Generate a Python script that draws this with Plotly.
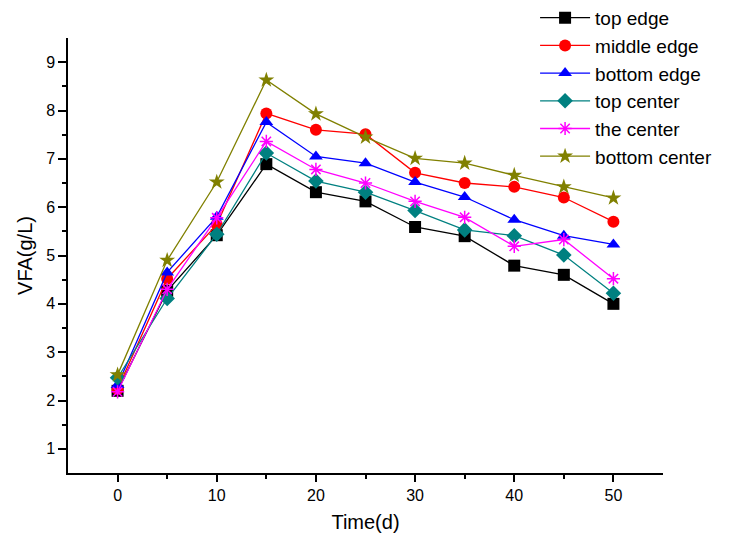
import plotly.graph_objects as go

time_d = [0, 5, 10, 15, 20, 25, 30, 35, 40, 45, 50]
top_edge = [2.20, 4.27, 5.42, 6.89, 6.31, 6.12, 5.59, 5.40, 4.79, 4.60, 4.00]
middle_edge = [2.24, 4.52, 5.64, 7.94, 7.60, 7.51, 6.71, 6.50, 6.42, 6.20, 5.70]
bottom_edge = [2.32, 4.65, 5.80, 7.76, 7.05, 6.91, 6.52, 6.21, 5.74, 5.41, 5.23]
top_center = [2.47, 4.11, 5.44, 7.12, 6.54, 6.31, 5.93, 5.53, 5.41, 5.01, 4.22]
the_center = [2.18, 4.30, 5.78, 7.36, 6.78, 6.50, 6.12, 5.79, 5.19, 5.33, 4.52]
bottom_center = [2.53, 4.90, 6.52, 8.63, 7.93, 7.45, 7.01, 6.91, 6.66, 6.42, 6.19]

series = [
    ("top edge", top_edge, "#000000", "square"),
    ("middle edge", middle_edge, "#FF0000", "circle"),
    ("bottom edge", bottom_edge, "#0000FF", "triangle-up"),
    ("top center", top_center, "#008080", "diamond"),
    ("the center", the_center, "#FF00FF", "asterisk-open"),
    ("bottom center", bottom_center, "#808000", "star"),
]

fig = go.Figure()
for name, vals, color, sym in series:
    fig.add_trace(go.Scatter(
        x=time_d, y=vals, name=name, mode="lines+markers",
        line=dict(color=color, width=1.3),
        marker=dict(symbol=sym, size=12 if sym != "asterisk-open" else 11,
                    color=color, line=dict(color=color, width=1.5 if sym == "asterisk-open" else 0)),
    ))

axis_font = dict(family="Arial, Liberation Sans, sans-serif", size=16, color="#000000")
fig.update_layout(
    width=731, height=539,
    margin=dict(l=68, r=68, t=38, b=66, autoexpand=False),
    paper_bgcolor="white", plot_bgcolor="white",
    font=dict(family="Arial, Liberation Sans, sans-serif", color="#000000"),
    showlegend=True,
    legend=dict(x=0.785, y=1.09, xanchor="left", yanchor="top",
                font=dict(size=19, color="#000000"),
                bgcolor="rgba(0,0,0,0)", itemwidth=50, tracegroupgap=0),
    xaxis=dict(
        range=[-5, 55], tickmode="array", tickvals=[0, 10, 20, 30, 40, 50],
        ticks="outside", ticklen=7, tickwidth=1.5, tickcolor="#000000",
        minor=dict(tickvals=[5, 15, 25, 35, 45], ticks="outside", ticklen=4, tickwidth=1.5, tickcolor="#000000"),
        showline=True, linecolor="#000000", linewidth=1.5, showgrid=False, zeroline=False,
        tickfont=axis_font,
        title=dict(text="Time(d)", font=dict(size=20, color="#000000"), standoff=12),
    ),
    yaxis=dict(
        range=[0.5, 9.5], tickmode="array", tickvals=[1, 2, 3, 4, 5, 6, 7, 8, 9],
        ticks="outside", ticklen=8, tickwidth=1.5, tickcolor="#000000",
        minor=dict(tickvals=[1.5, 2.5, 3.5, 4.5, 5.5, 6.5, 7.5, 8.5], ticks="outside", ticklen=4, tickwidth=1.5, tickcolor="#000000"),
        showline=True, linecolor="#000000", linewidth=1.5, showgrid=False, zeroline=False,
        tickfont=axis_font,
        title=dict(text="VFA(g/L)", font=dict(size=20, color="#000000"), standoff=8),
    ),
)

fig.write_html("out.html")
